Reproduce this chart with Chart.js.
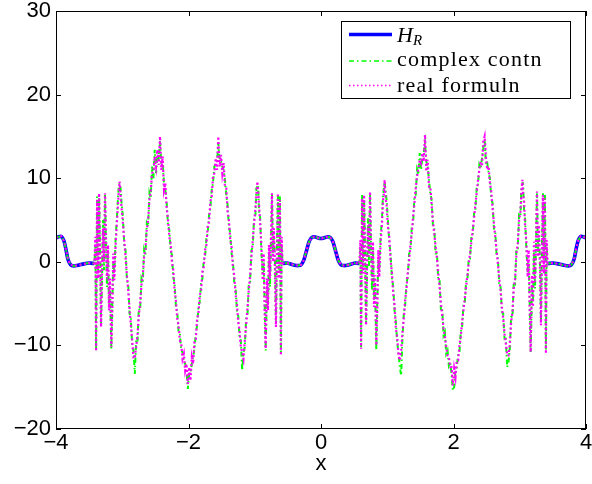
<!DOCTYPE html>
<html>
<head>
<meta charset="utf-8">
<script src="https://cdn.jsdelivr.net/npm/chart.js@4.4.0/dist/chart.umd.min.js"></script>
<style>
  html, body { margin: 0; padding: 0; background: #fff; }
  canvas { display: block; }
</style>
</head>
<body>
<canvas id="chart" width="592" height="484"></canvas>
<script>
// H_R on the smooth stretches (edges and middle)
const hrX1 = [-4, -3.96, -3.92, -3.88, -3.85, -3.82, -3.78, -3.73, -3.66, -3.58, -3.5, -3.42];
const hrY1 = [2.85, 3.0, 3.05, 2.5, 1.5, 0.3, -0.35, -0.5, -0.4, -0.25, -0.15, -0.2];
const hrX2 = [-0.58, -0.52, -0.46, -0.4, -0.34, -0.3, -0.26, -0.22, -0.18, -0.14, -0.1, -0.06, -0.02,
              0.02, 0.06, 0.1, 0.14, 0.18, 0.22, 0.26, 0.3, 0.34, 0.4, 0.46, 0.52, 0.58];
const hrY2 = [-0.2, -0.15, -0.25, -0.4, -0.45, -0.35, 0.2, 1.3, 2.4, 2.9, 3.0, 2.9, 2.8,
              2.8, 2.9, 3.0, 2.9, 2.4, 1.3, 0.2, -0.35, -0.45, -0.4, -0.25, -0.15, -0.2];
const hrX3 = [3.42, 3.5, 3.58, 3.66, 3.73, 3.78, 3.82, 3.85, 3.88, 3.92, 3.96, 4];
const hrY3 = [-0.2, -0.15, -0.25, -0.4, -0.5, -0.35, 0.3, 1.5, 2.5, 3.05, 3.0, 2.85];

// position inside each oscillating stretch (left stretch starts at -4, right at 0)
const phase = [
  0.595, 0.605, 0.62, 0.635, 0.65, 0.665, 0.68, 0.695, 0.71, 0.725, 0.74, 0.755, 0.77, 0.785,
  0.8, 0.815, 0.835, 0.85, 0.865, 0.88, 0.9, 0.92, 0.935, 0.95, 0.96, 0.975, 0.99,
  1.01, 1.03, 1.05, 1.07, 1.09, 1.11, 1.13, 1.15, 1.17, 1.19,
  1.21, 1.23, 1.25, 1.27, 1.29, 1.31, 1.33, 1.35, 1.37, 1.39,
  1.41, 1.43, 1.45, 1.47, 1.49, 1.51, 1.53, 1.55, 1.57, 1.59,
  1.61, 1.63, 1.65, 1.67, 1.69, 1.71, 1.73, 1.75, 1.77, 1.79,
  1.81, 1.83, 1.85, 1.87, 1.89, 1.91, 1.93, 1.95, 1.97, 1.99,
  2.01, 2.03, 2.05, 2.07, 2.09, 2.11, 2.13, 2.15, 2.17, 2.19,
  2.21, 2.23, 2.25, 2.27, 2.29, 2.31, 2.33, 2.35, 2.37, 2.39,
  2.41, 2.43, 2.45, 2.47, 2.49, 2.51, 2.53, 2.55, 2.57, 2.59,
  2.61, 2.63, 2.65, 2.67, 2.69, 2.71, 2.73, 2.75, 2.77, 2.79,
  2.81, 2.83, 2.85, 2.87, 2.89, 2.91, 2.93, 2.95, 2.97, 2.99,
  3.01, 3.025, 3.04, 3.05, 3.065, 3.08, 3.1, 3.12, 3.135, 3.15, 3.165, 3.185, 3.2, 3.215,
  3.23, 3.245, 3.26, 3.275, 3.29, 3.305, 3.32, 3.335, 3.35, 3.365, 3.38, 3.395, 3.405
];

// complex contn, left stretch
const greenLeft = [
  2.0, -10.4, 7.8, -1.0, 8.0, 2.0, -7.4, -2.0, 5.0, -1.0, 8.0, 2.0, -3.0, 1.0,
  -5.0, -3.0, -10.4, -5.0, 0.0, -1.4, 2.8, 5.4, 7.6, 9.2, 9.4, 8.8, 7.0,
  5.4, 2.0, 1.4, -2.2, -2.6, -6.2, -6.8, -10.0, -10.6, -13.4,
  -9.4, -9.6, -5.6, -5.8, -2.0, -2.4, 1.4, 0.8, 4.6, 4.2,
  8.2, 7.6, 11.4, 10.0, 13.4, 10.6, 12.6, 12.4, 14.4, 11.8,
  11.8, 9.4, 8.6, 7.2, 4.4, 3.8, 1.4, 0.8, -1.8, -2.6,
  -5.4, -6.0, -8.4, -8.6, -10.6, -10.8, -12.0, -12.2, -13.0, -15.2,
  -13.4, -13.4, -12.2, -11.4, -10.4, -8.6, -7.6, -5.4, -4.8, -2.6,
  -2.0, 0.2, 0.6, 2.8, 3.4, 5.6, 6.4, 8.6, 9.4, 11.4,
  11.6, 11.8, 14.2, 12.2, 12.0, 11.4, 11.0, 9.8, 8.0, 6.8,
  4.2, 3.4, 1.0, 0.2, -2.4, -3.0, -5.8, -6.4, -9.0, -9.4,
  -13.0, -10.8, -10.2, -6.8, -6.4, -2.6, -2.4, 1.4, 1.8, 5.4,
  5.6, 8.8, 9.0, 9.2, 6.0, 5.6, 1.2, -1.4, 0.0, -5.2, -10.6, -3.0, -5.0, 1.0,
  -3.0, 2.0, 8.0, 1.0, 3.0, 0.0, -7.4, 2.0, 8.0, -1.0, 7.8, -10.8, 2.0
];
// real formuln, left stretch
const magentaLeft = [
  3.0, -10.7, 7.4, -2.0, 8.2, 1.0, -7.8, -1.0, 4.0, 0.0, 8.2, 3.0, -2.0, 2.0,
  -5.8, -2.0, -10.2, -6.0, 1.0, -2.2, 2.0, 4.8, 6.8, 8.6, 9.6, 8.0, 6.4,
  4.6, 2.6, 0.6, -1.6, -3.4, -5.6, -7.6, -9.4, -11.6, -11.4,
  -10.2, -8.8, -6.4, -5.0, -2.8, -1.6, 0.6, 1.6, 3.8, 5.0,
  7.4, 8.4, 10.6, 10.8, 12.6, 11.4, 13.4, 11.6, 15.0, 11.0,
  12.6, 8.6, 9.4, 6.4, 5.2, 3.0, 2.2, 0.0, -1.0, -3.4,
  -4.6, -6.8, -7.6, -9.4, -9.8, -11.6, -11.0, -13.0, -12.2, -14.6,
  -12.6, -14.2, -11.4, -12.2, -9.6, -9.4, -6.8, -6.2, -4.0, -3.4,
  -1.2, -0.6, 1.4, 2.0, 4.2, 4.8, 7.2, 7.8, 10.2, 10.6,
  12.4, 11.0, 15.0, 11.4, 12.8, 10.6, 11.8, 9.0, 8.8, 6.0,
  5.0, 2.6, 1.8, -0.6, -1.6, -3.8, -5.0, -7.2, -8.2, -10.2,
  -10.8, -11.6, -9.4, -7.6, -5.6, -3.4, -1.6, 0.6, 2.6, 4.6,
  6.4, 8.0, 9.6, 8.6, 6.8, 4.8, 2.0, -2.2, 1.0, -6.0, -10.4, -2.0, -5.8, 2.0,
  -2.0, 3.0, 8.2, 0.0, 4.0, -1.0, -7.8, 1.0, 8.2, -2.0, 7.4, -11.2, 3.0
];
// complex contn, right stretch
const greenRight = [
  1.6, -10.2, 8.0, -0.6, 7.8, 1.6, -7.2, -1.6, 5.2, -0.6, 8.2, 1.6, -3.4, 1.4,
  -4.6, -2.6, -10.6, -4.6, 0.4, -1.0, 3.2, 5.0, 8.0, 8.8, 9.6, 8.4, 7.4,
  5.0, 2.4, 1.0, -1.8, -3.0, -5.8, -7.2, -9.6, -11.0, -12.6,
  -13.6, -9.0, -6.2, -5.2, -2.6, -1.8, 1.0, 1.2, 4.2, 4.6,
  7.8, 8.0, 11.0, 10.4, 13.0, 11.0, 12.4, 13.0, 14.2, 12.0,
  11.4, 9.8, 8.2, 7.4, 4.2, 4.0, 1.0, 1.0, -2.2, -2.2,
  -5.8, -5.6, -8.8, -8.4, -11.0, -10.6, -12.4, -12.0, -13.4, -15.4,
  -15.0, -13.0, -12.6, -11.0, -10.8, -8.4, -7.8, -5.2, -5.0, -2.4,
  -2.2, 0.4, 0.4, 3.0, 3.2, 5.8, 6.2, 8.8, 9.2, 11.6,
  11.2, 12.4, 13.6, 14.6, 11.6, 11.8, 10.6, 10.0, 7.6, 7.0,
  4.0, 3.6, 0.8, 0.4, -2.6, -2.8, -6.0, -6.2, -9.2, -9.2,
  -12.6, -12.0, -10.4, -6.6, -6.6, -2.4, -2.6, 1.6, 1.6, 5.6,
  5.4, 9.0, 9.4, 9.4, 6.2, 5.4, 1.4, -1.2, -0.2, -5.0, -10.8, -2.8, -4.8, 1.2,
  -3.2, 1.8, 8.2, 1.2, 2.8, 0.2, -7.2, 2.2, 8.2, -0.8, 8.0, -10.6, 1.8
];
// real formuln, right stretch
const magentaRight = [
  2.6, -10.4, 7.6, -1.4, 8.0, 0.6, -7.6, -0.4, 4.4, 0.6, 8.4, 2.6, -2.4, 2.4,
  -5.4, -1.6, -10.0, -5.6, 1.4, -1.8, 2.4, 4.4, 7.2, 8.2, 9.8, 7.6, 6.8,
  4.2, 3.0, 0.2, -1.2, -3.8, -5.2, -8.0, -9.0, -11.2, -11.8,
  -10.6, -8.4, -6.8, -4.6, -3.2, -1.2, 0.2, 2.0, 3.4, 5.4,
  7.0, 8.8, 10.2, 11.2, 12.2, 11.8, 13.0, 12.0, 15.2, 10.8,
  12.2, 9.0, 9.0, 6.8, 4.8, 3.4, 1.8, 0.4, -1.4, -3.0,
  -5.0, -6.4, -8.0, -9.0, -10.2, -11.2, -11.4, -12.6, -12.6, -14.8,
  -12.8, -13.8, -11.8, -11.8, -10.0, -9.0, -7.2, -5.8, -4.4, -3.0,
  -1.6, -0.2, 1.0, 2.4, 3.8, 5.2, 6.8, 8.2, 9.8, 11.0,
  12.0, 11.4, 14.4, 15.0, 12.4, 11.0, 11.4, 9.4, 8.4, 6.4,
  4.6, 3.0, 1.4, -0.2, -2.0, -3.4, -5.4, -6.8, -8.6, -9.8,
  -11.2, -11.2, -9.8, -7.2, -6.0, -3.0, -2.0, 1.0, 2.2, 5.0,
  6.0, 8.4, 9.8, 8.2, 7.2, 4.4, 2.4, -1.8, 1.4, -5.6, -10.8, -1.6, -5.4, 2.4,
  -2.4, 2.6, 8.4, 0.6, 4.4, -0.4, -7.6, 0.6, 8.0, -1.4, 7.6, -11.0, 2.6
];

const xTicks = [-4, -2, 0, 2, 4];
const yTicks = [-20, -10, 0, 10, 20, 30];

const legendLabels = ['complex contn', 'real formuln'];

const pts = (xs, ys) => xs.map((x, i) => ({ x: x, y: ys[i] }));
const gap = (x) => ({ x: x, y: null });
const stretch = (start, ys) => phase.map((p, i) => ({ x: start + p, y: ys[i] }));

const hrData = [...pts(hrX1, hrY1), gap(-2), ...pts(hrX2, hrY2), gap(2), ...pts(hrX3, hrY3)];
const withSmooth = (left, right) => [
  ...pts(hrX1, hrY1), ...stretch(-4, left),
  ...pts(hrX2, hrY2), ...stretch(0, right),
  ...pts(hrX3, hrY3)
];

const minus = (v) => (v < 0 ? '\u2212' + Math.abs(v) : String(v));

const framePlugin = {
  id: 'frame',
  afterDraw(chart) {
    const { ctx, chartArea: a, scales } = chart;
    const x = scales.x, y = scales.y;
    ctx.save();
    ctx.strokeStyle = '#000';
    ctx.lineWidth = 1;
    ctx.strokeRect(a.left + 0.5, a.top + 0.5, a.right - a.left - 1, a.bottom - a.top - 1);
    ctx.beginPath();
    xTicks.forEach((v) => {
      const px = Math.round(x.getPixelForValue(v)) + 0.5;
      ctx.moveTo(px, a.bottom); ctx.lineTo(px, a.bottom - 5);
      ctx.moveTo(px, a.top); ctx.lineTo(px, a.top + 5);
    });
    yTicks.forEach((v) => {
      const py = Math.round(y.getPixelForValue(v)) + 0.5;
      ctx.moveTo(a.left, py); ctx.lineTo(a.left + 5, py);
      ctx.moveTo(a.right, py); ctx.lineTo(a.right - 5, py);
    });
    ctx.stroke();

    // legend box
    const bx = 341.5, by = 21.5, bw = 229, bh = 77;
    ctx.fillStyle = '#fff';
    ctx.fillRect(bx, by, bw, bh);
    ctx.strokeRect(bx, by, bw, bh);

    const x0 = 349, x1 = 392;
    ctx.lineCap = 'butt';
    ctx.strokeStyle = '#0000ff';
    ctx.lineWidth = 3.5;
    ctx.beginPath(); ctx.moveTo(x0, 34.5); ctx.lineTo(x1, 34.5); ctx.stroke();

    ctx.strokeStyle = '#00ff00';
    ctx.lineWidth = 1.5;
    ctx.setLineDash([5, 3, 1.5, 3]);
    ctx.beginPath(); ctx.moveTo(x0, 61); ctx.lineTo(x1, 61); ctx.stroke();

    ctx.strokeStyle = '#ff00ff';
    ctx.setLineDash([1.5, 2.5]);
    ctx.beginPath(); ctx.moveTo(x0, 85.5); ctx.lineTo(x1, 85.5); ctx.stroke();
    ctx.setLineDash([]);

    ctx.fillStyle = '#000';
    ctx.textAlign = 'left';
    ctx.textBaseline = 'alphabetic';
    ctx.font = 'italic 22px "Liberation Serif"';
    ctx.fillText('H', 397, 41.5);
    ctx.font = 'italic 15px "Liberation Serif"';
    ctx.fillText('R', 413, 45);
    ctx.font = '22px "Liberation Serif"';
    ctx.letterSpacing = '1.2px';
    ctx.fillText(legendLabels[0], 397, 66);
    ctx.fillText(legendLabels[1], 397, 91.5);
    ctx.restore();
  }
};

new Chart(document.getElementById('chart'), {
  type: 'line',
  data: {
    datasets: [
      {
        label: 'real formuln',
        data: withSmooth(magentaLeft, magentaRight),
        borderColor: '#ff00ff',
        borderWidth: 2.2,
        borderDash: [2, 2.5],
        pointRadius: 0,
        tension: 0
      },
      {
        label: 'complex contn',
        data: withSmooth(greenLeft, greenRight),
        borderColor: '#00ff00',
        borderWidth: 2,
        borderDash: [5, 3, 1.5, 3],
        pointRadius: 0,
        tension: 0
      },
      {
        label: 'H_R',
        data: hrData,
        borderColor: '#0000ff',
        borderWidth: 3.6,
        pointRadius: 0,
        tension: 0.2,
        spanGaps: false
      }
    ]
  },
  options: {
    responsive: false,
    devicePixelRatio: 1,
    animation: false,
    events: [],
    layout: { padding: { top: 11, right: 6, left: 0, bottom: 0 } },
    plugins: {
      legend: { display: false },
      tooltip: { enabled: false }
    },
    scales: {
      x: {
        type: 'linear',
        min: -4,
        max: 4,
        grid: { display: false, drawTicks: false },
        border: { display: false },
        ticks: {
          stepSize: 2,
          padding: 1,
          color: '#000',
          font: { family: 'Liberation Sans', size: 22 },
          maxRotation: 0,
          callback: minus
        },
        title: {
          display: true,
          text: 'x',
          color: '#000',
          font: { family: 'Liberation Sans', size: 22 },
          padding: { top: 0, bottom: 7 }
        },
        afterFit: (s) => {
          s.height = 55;
          s.paddingLeft = 0; s.paddingRight = 0;
        }
      },
      y: {
        min: -20,
        max: 30,
        grid: { display: false, drawTicks: false },
        border: { display: false },
        ticks: {
          stepSize: 10,
          padding: 5,
          color: '#000',
          font: { family: 'Liberation Sans', size: 22 },
          callback: minus
        },
        afterFit: (s) => {
          s.width = 56;
          s.paddingTop = 0; s.paddingBottom = 0;
        }
      }
    }
  },
  plugins: [framePlugin]
});
</script>
</body>
</html>
